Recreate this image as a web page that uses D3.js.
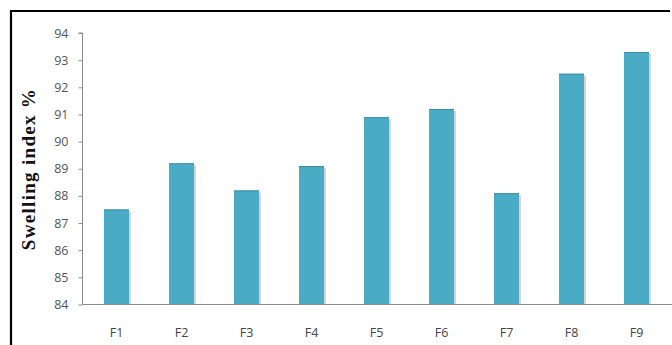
<!DOCTYPE html>
<html>
<head>
<meta charset="utf-8">
<script src="https://cdn.jsdelivr.net/npm/d3@7/dist/d3.min.js"></script>
<style>
  html, body { margin: 0; padding: 0; background: #fff; overflow: hidden; }
  svg { display: block; }
</style>
</head>
<body>
<svg id="chart" width="672" height="345"></svg>
<script>
// Swelling index (%) per formulation
const categories = ["F1", "F2", "F3", "F4", "F5", "F6", "F7", "F8", "F9"];
const swellingIndex = [87.5, 89.2, 88.2, 89.1, 90.9, 91.2, 88.1, 92.5, 93.3];
const yTicks = [84, 85, 86, 87, 88, 89, 90, 91, 92, 93, 94];
const yTitle = "Swelling index %";

const svg = d3.select("#chart");
const W = 672, H = 345;

// Frame around the figure: left and top edges
svg.append("line").attr("x1", 11).attr("x2", 11).attr("y1", 10).attr("y2", H)
  .attr("stroke", "#000").attr("stroke-width", 2.2);
svg.append("line").attr("x1", 10).attr("x2", W - 2).attr("y1", 11).attr("y2", 11)
  .attr("stroke", "#000").attr("stroke-width", 2.2);

const axisX = 82.5, baseY = 304.5;

const x = d3.scaleBand()
  .domain(categories)
  .range([84, 669])
  .paddingInner(0.615)
  .paddingOuter(0.3075);

const y = d3.scaleLinear()
  .domain([84, 94])
  .range([baseY, 33]);

// Bar shadows: a pale strip just right of each bar
svg.append("g").selectAll("rect")
  .data(categories)
  .join("rect")
  .attr("x", (d) => x(d) + x.bandwidth())
  .attr("y", (d, i) => y(swellingIndex[i]) + 2)
  .attr("width", 2)
  .attr("height", (d, i) => baseY - y(swellingIndex[i]) - 2)
  .attr("fill", "#d2d6d8");

// Bars
svg.append("g").selectAll("rect")
  .data(categories)
  .join("rect")
  .attr("x", (d) => x(d))
  .attr("y", (d, i) => y(swellingIndex[i]))
  .attr("width", x.bandwidth())
  .attr("height", (d, i) => baseY - y(swellingIndex[i]))
  .attr("fill", "#4aabc5");

// Darker cap on each bar
svg.append("g").selectAll("rect")
  .data(categories)
  .join("rect")
  .attr("x", (d) => x(d))
  .attr("y", (d, i) => y(swellingIndex[i]))
  .attr("width", x.bandwidth())
  .attr("height", 1)
  .attr("fill", "#3f8ea4");

// Y axis
const yAxis = d3.axisLeft(y).tickValues(yTicks).tickSize(4).tickPadding(10)
  .tickFormat(d3.format("d"));
const gy = svg.append("g").attr("transform", `translate(${axisX},0)`).call(yAxis);
gy.select(".domain").attr("stroke", "#8c8c8c").attr("d", `M-4,${y(94)}H0V${baseY}`);
gy.selectAll(".tick line").attr("stroke", "#8c8c8c");
gy.selectAll(".tick text")
  .attr("fill", "#555")
  .style("font-family", "'Open Sans', 'Noto Sans', sans-serif")
  .style("font-size", "12.5px");

// X axis
const xAxis = d3.axisBottom(x).tickSize(0).tickPadding(24);
const gx = svg.append("g").attr("transform", `translate(0,${baseY})`).call(xAxis);
gx.select(".domain").attr("stroke", "#8c8c8c").attr("d", `M${axisX},0H${W}`);
gx.selectAll(".tick text")
  .attr("fill", "#444")
  .style("font-family", "'Open Sans', 'Noto Sans', sans-serif")
  .style("font-size", "12.5px");

// Y axis title
svg.append("text")
  .attr("transform", "translate(35,169) rotate(-90)")
  .attr("text-anchor", "middle")
  .style("font-family", "'Liberation Serif', 'Times New Roman', serif")
  .style("font-weight", "bold")
  .style("font-size", "19px")
  .style("letter-spacing", "1.3px")
  .attr("fill", "#111")
  .text(yTitle);
</script>
</body>
</html>
